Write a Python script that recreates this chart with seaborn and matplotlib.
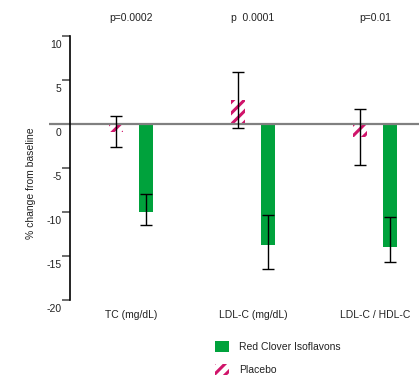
import matplotlib
matplotlib.use("Agg")
import matplotlib.pyplot as plt
import matplotlib.patches as mpatches
import matplotlib.transforms as mtransforms
import numpy as np
import pandas as pd
import seaborn as sns

# ---- data ----
categories = ["TC (mg/dL)", "LDL-C (mg/dL)", "LDL-C / HDL-C"]
groups = ["Placebo", "Red Clover Isoflavons"]
placebo_mean = [-0.9, 2.7, -1.5]
placebo_err_low = [1.7, 3.2, 3.2]
placebo_err_high = [1.8, 3.2, 3.2]
red_mean = [-10.0, -13.7, -14.0]
red_err_low = [1.5, 2.8, 1.7]
red_err_high = [2.0, 3.4, 3.4]
p_values = ["p=0.0002", "p  0.0001", "p=0.01"]
y_ticks = [10, 5, 0, -5, -10, -15, -20]
y_tick_labels = ["10", "5", "0", "-5", "-10", "-15", "-20"]

GREEN = "#00A23C"
CRIMSON = "#D0146A"
GRAY = "#808080"

sns.set_style("white")
plt.rcParams["font.family"] = ["Liberation Sans", "DejaVu Sans"]
plt.rcParams["axes.unicode_minus"] = False
plt.rcParams["hatch.linewidth"] = 2.2

df = pd.DataFrame({
    "category": categories * 2,
    "group": [groups[0]] * 3 + [groups[1]] * 3,
    "value": placebo_mean + red_mean,
})

fig = plt.figure(figsize=(4.19, 3.78), dpi=100)
ax = fig.add_axes([49 / 419, 78 / 378, 370 / 419, 264 / 378])

sns.barplot(data=df, x="category", y="value", hue="group", order=categories,
            hue_order=groups, palette={groups[0]: "white", groups[1]: GREEN},
            width=0.5, gap=0.54, errorbar=None, legend=False, ax=ax,
            linewidth=0, zorder=2)

# style placebo bars with hatch
cont_placebo, cont_red = ax.containers[0], ax.containers[1]
for p in cont_placebo:
    p.set_facecolor("white")
    p.set_edgecolor(CRIMSON)
    p.set_hatch("///")
    p.set_linewidth(0)
for p in cont_red:
    p.set_facecolor(GREEN)
    p.set_edgecolor(GREEN)
    p.set_linewidth(0)

# error bars
for cont, means, lo, hi in [(cont_placebo, placebo_mean, placebo_err_low, placebo_err_high),
                            (cont_red, red_mean, red_err_low, red_err_high)]:
    xs = [p.get_x() + p.get_width() / 2 for p in cont]
    ax.errorbar(xs, means, yerr=[lo, hi], fmt="none", ecolor="black",
                elinewidth=1.0, capsize=4, capthick=1.0, zorder=4)

# zero line
ax.axhline(0, color=GRAY, lw=1.6, zorder=3)

ax.set_xlim(-0.672, 2.361)
ax.set_ylim(-20, 10)

# spines
for s in ["top", "right", "bottom"]:
    ax.spines[s].set_visible(False)
ax.spines["left"].set_position(("data", -0.5))
ax.spines["left"].set_color("black")
ax.spines["left"].set_linewidth(1.2)
ax.spines["left"].set_zorder(5)

ax.set_yticks(y_ticks)
ax.set_yticklabels(y_tick_labels)
ax.tick_params(axis="y", direction="out", length=6, width=1.1, color="#444444",
               pad=0, labelsize=7.5, labelcolor="#222222", left=True)
offset = mtransforms.ScaledTranslation(0, -0.08, fig.dpi_scale_trans)
for lab in ax.get_yticklabels():
    lab.set_transform(lab.get_transform() + offset)

ax.tick_params(axis="x", length=0, pad=7, labelsize=7.5, labelcolor="#222222")
ax.set_xlabel("")
ax.set_ylabel("% change from baseline", fontsize=7.5, color="#222222")
ax.yaxis.set_label_coords(-0.035, 0.443)

# p-values
for i, pv in enumerate(p_values):
    ax.text(i, 12.0, pv, ha="center", va="center", fontsize=7.5,
            color="#222222", clip_on=False)

# legend
handles = [
    mpatches.Patch(facecolor=GREEN, edgecolor=GREEN, lw=0, label=groups[1]),
    mpatches.Patch(facecolor="white", edgecolor=CRIMSON, hatch="///", lw=0, label=groups[0]),
]
fig.legend(handles=handles, loc="upper left", bbox_to_anchor=(215 / 419, 1 - 341 / 378),
           frameon=False, fontsize=7.5, handlelength=1.35, handleheight=1.25,
           handletextpad=0.95, labelspacing=1.15, borderpad=0, borderaxespad=0,
           labelcolor="#222222")

fig.savefig("out.png", dpi=100)
